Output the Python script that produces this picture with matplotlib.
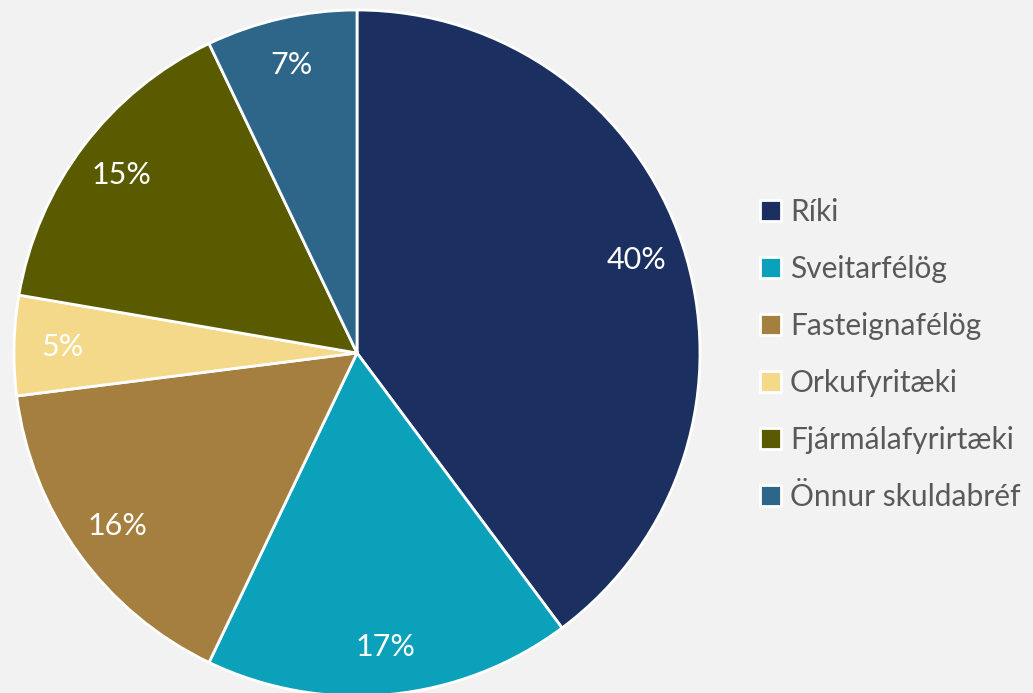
import matplotlib
matplotlib.use("Agg")
import matplotlib.pyplot as plt

categories = ["Ríki", "Sveitarfélög", "Fasteignafélög", "Orkufyritæki",
              "Fjármálafyrirtæki", "Önnur skuldabréf"]
values = [39.8, 17.3, 15.9, 4.7, 15.2, 7.1]
colors = ["#1b2f60", "#0ca1bb", "#a57f3f", "#f5d98b", "#5a5b00", "#2e6689"]

plt.rcParams['font.family'] = ['Lato', 'DejaVu Sans']

W, H = 1033, 693
fig = plt.figure(figsize=(W / 100, H / 100), dpi=100, facecolor="#f2f2f2")

cx, cy, r = 357, 353, 343
ax = fig.add_axes([(cx - r) / W, (H - cy - r) / H, 2 * r / W, 2 * r / H])
ax.set_facecolor("none")
ax.axis("off")

wedges, texts, autotexts = ax.pie(
    values, colors=colors, startangle=90, counterclock=False,
    autopct="%.0f%%", pctdistance=0.86, radius=1,
    wedgeprops=dict(edgecolor="white", linewidth=2),
    textprops=dict(color="white", fontsize=22))
ax.set_xlim(-1, 1)
ax.set_ylim(-1, 1)
ax.set_aspect("auto")

leg = fig.legend(wedges, categories, loc="upper left",
                 bbox_to_anchor=(760 / W, 1 - 198 / H),
                 frameon=False, fontsize=21.5, labelcolor="#595959",
                 handlelength=0.7, handleheight=0.7, handletextpad=0.3,
                 labelspacing=0.97, borderpad=0, borderaxespad=0)

fig.savefig("out.png", dpi=100, facecolor=fig.get_facecolor())
